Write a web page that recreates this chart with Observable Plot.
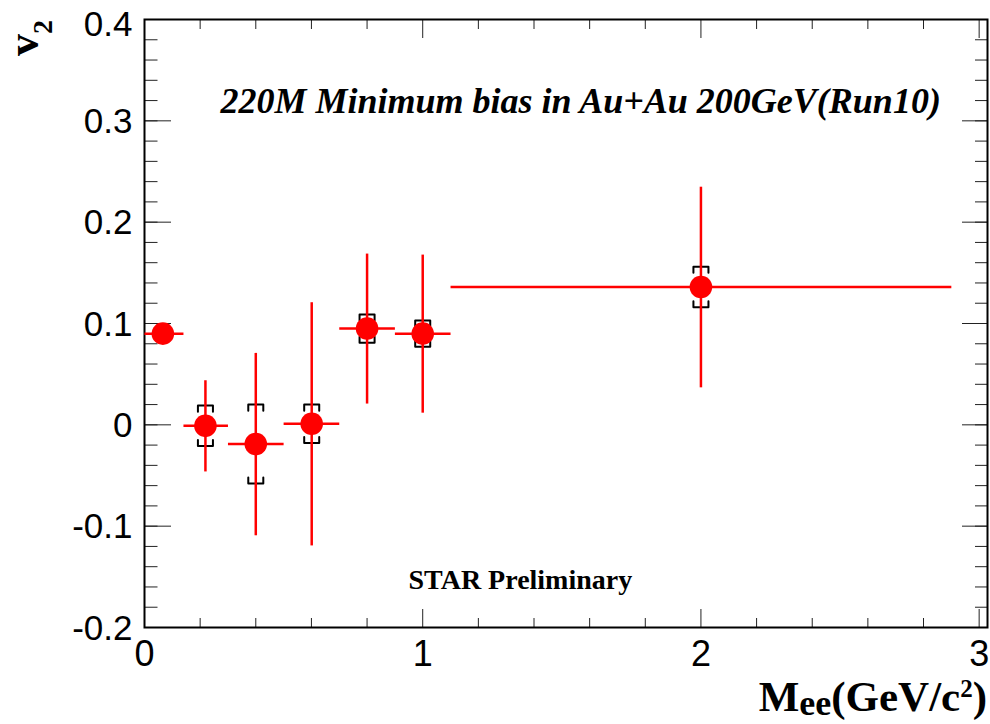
<!DOCTYPE html>
<html><head><meta charset="utf-8">
<script src="https://cdn.jsdelivr.net/npm/d3@7"></script>
<script src="https://cdn.jsdelivr.net/npm/@observablehq/plot@0.6"></script>
<style>body{margin:0;background:#fff;} svg{display:block}</style>
</head><body><div id="chart"></div>
<script>
// Data (STAR v2 vs dielectron invariant mass)
const massCenter = [0.066, 0.219, 0.400, 0.601, 0.800, 1.000, 2.000];
const binLow     = [0.00, 0.14, 0.30, 0.50, 0.70, 0.90, 1.10];
const binHigh    = [0.14, 0.30, 0.50, 0.70, 0.90, 1.10, 2.90];
const v2         = [0.090, -0.001, -0.019, 0.001, 0.095, 0.090, 0.136];
const statErr    = [0.004, 0.045, 0.090, 0.120, 0.074, 0.078, 0.099];
const sysErr     = [0.000, 0.020, 0.039, 0.019, 0.014, 0.013, 0.020];

// Tick values and labels
const xMajor = [0, 1, 2, 3];
const xMajorLabels = ["0", "1", "2", "3"];
const xMinor = [0.2, 0.4, 0.6, 0.8, 1.2, 1.4, 1.6, 1.8, 2.2, 2.4, 2.6, 2.8];
const yMajor = [-0.2, -0.1, 0, 0.1, 0.2, 0.3, 0.4];
const yMajorLabels = ["-0.2", "-0.1", "0", "0.1", "0.2", "0.3", "0.4"];
const yMinor = d3.range(-20, 41, 2).map(v => v / 100);

const titleText = "220M Minimum bias in Au+Au 200GeV(Run10)";
const prelimText = "STAR Preliminary";

// bracket size (data units) for systematic error caps
const bracketHalfWidth = 0.027;
const bracketLeg = 0.006;

const rows = massCenter.map((x, i) => ({x, lo: binLow[i], hi: binHigh[i], v: v2[i], stat: statErr[i], sys: sysErr[i]}));
const brackets = [];
rows.forEach((d, i) => {
  if (!(d.sys > 0)) return;
  for (const s of [1, -1]) {
    const yb = d.v + s * d.sys;
    const id = i + "_" + s;
    brackets.push({id, x: d.x - bracketHalfWidth, y: yb - s * bracketLeg});
    brackets.push({id, x: d.x - bracketHalfWidth, y: yb});
    brackets.push({id, x: d.x + bracketHalfWidth, y: yb});
    brackets.push({id, x: d.x + bracketHalfWidth, y: yb - s * bracketLeg});
  }
});

const tickColor = "#222";
const sans = "'Liberation Sans', Arial, Helvetica, sans-serif";
const serif = "'Liberation Serif', 'Times New Roman', Times, serif";
const yTop = yMajor[yMajor.length - 1];
const yLabelFmt = d => yMajorLabels[yMajor.indexOf(d)];

const plot = Plot.plot({
  width: 990, height: 724,
  marginLeft: 144, marginRight: 3, marginTop: 19, marginBottom: 97,
  x: {domain: [0, 3.03]},
  y: {domain: [-0.2, 0.4]},
  style: {fontFamily: sans, fontSize: "36px", background: "#fff", color: "#000"},
  marks: [
    // tick labels
    Plot.axisY({anchor: "left", ticks: yMajor.filter(d => d !== yTop), tickSize: 0, tickPadding: 12, label: null, fontSize: 35, dy: 1,
      tickFormat: yLabelFmt}),
    Plot.axisY({anchor: "left", ticks: [yTop], tickSize: 0, tickPadding: 12, label: null, fontSize: 35, dy: 5,
      tickFormat: yLabelFmt}),
    Plot.axisX({anchor: "bottom", ticks: xMajor, tickSize: 0, tickPadding: 13, label: null, fontSize: 36,
      tickFormat: d => xMajorLabels[xMajor.indexOf(d)]}),
    // inward ticks
    Plot.axisY({anchor: "left", ticks: yMajor, tickSize: -27, label: null, tickFormat: () => "", stroke: tickColor}),
    Plot.axisY({anchor: "left", ticks: yMinor, tickSize: -13.5, label: null, tickFormat: () => "", stroke: tickColor}),
    Plot.axisY({anchor: "right", ticks: yMajor, tickSize: -26, label: null, tickFormat: () => "", stroke: tickColor}),
    Plot.axisY({anchor: "right", ticks: yMinor, tickSize: -13, label: null, tickFormat: () => "", stroke: tickColor}),
    Plot.axisX({anchor: "bottom", ticks: xMajor, tickSize: -18, label: null, tickFormat: () => "", stroke: tickColor}),
    Plot.axisX({anchor: "bottom", ticks: xMinor, tickSize: -9, label: null, tickFormat: () => "", stroke: tickColor}),
    Plot.axisX({anchor: "top", ticks: xMajor, tickSize: -18, label: null, tickFormat: () => "", stroke: tickColor}),
    Plot.axisX({anchor: "top", ticks: xMinor, tickSize: -9, label: null, tickFormat: () => "", stroke: tickColor}),
    Plot.frame({stroke: "#000", strokeWidth: 2}),
    // systematic brackets
    Plot.line(brackets, {x: "x", y: "y", z: "id", stroke: "#000", strokeWidth: 2, curve: "linear"}),
    // horizontal bin-width bars
    Plot.link(rows, {x1: "lo", x2: "hi", y1: "v", y2: "v", stroke: "#ff0000", strokeWidth: 2.5}),
    // vertical stat error bars
    Plot.link(rows, {x1: "x", x2: "x", y1: d => d.v - d.stat, y2: d => d.v + d.stat, stroke: "#ff0000", strokeWidth: 2.5}),
    // markers
    Plot.dot(rows, {x: "x", y: "v", r: 11.3, fill: "#ff0000", stroke: null}),
    // annotations
    Plot.text([titleText], {text: d => d, frameAnchor: "top-left", dx: 76, dy: 93, lineAnchor: "bottom", textAnchor: "start",
      fontFamily: serif, fontWeight: "bold", fontStyle: "italic", fontSize: 36, fill: "#000"}),
    Plot.text([prelimText], {text: d => d, frameAnchor: "top-left", dx: 264, dy: 569, lineAnchor: "bottom", textAnchor: "start",
      fontFamily: serif, fontWeight: "bold", fontSize: 28, fill: "#000"})
  ]
});

document.getElementById("chart").appendChild(plot);

// Axis titles with sub/superscripts
const svg = d3.select(plot);
const xt = svg.append("text").attr("x", 987).attr("y", 711).attr("text-anchor", "end")
  .attr("font-family", serif).attr("font-weight", "bold").attr("fill", "#000");
xt.append("tspan").attr("font-size", 43).text("M");
xt.append("tspan").attr("font-size", 36).attr("dy", 4).text("ee");
xt.append("tspan").attr("font-size", 43).attr("dy", -4).text("(GeV/c");
xt.append("tspan").attr("font-size", 25).attr("dy", -14).text("2");
xt.append("tspan").attr("font-size", 43).attr("dy", 14).text(")");

const yt = svg.append("text").attr("transform", "translate(38,20) rotate(-90)").attr("text-anchor", "end")
  .attr("font-family", serif).attr("font-weight", "bold").attr("fill", "#000");
yt.append("tspan").attr("font-size", 44).text("v");
yt.append("tspan").attr("font-size", 28).attr("dy", 14).text("2");
</script>
</body></html>
